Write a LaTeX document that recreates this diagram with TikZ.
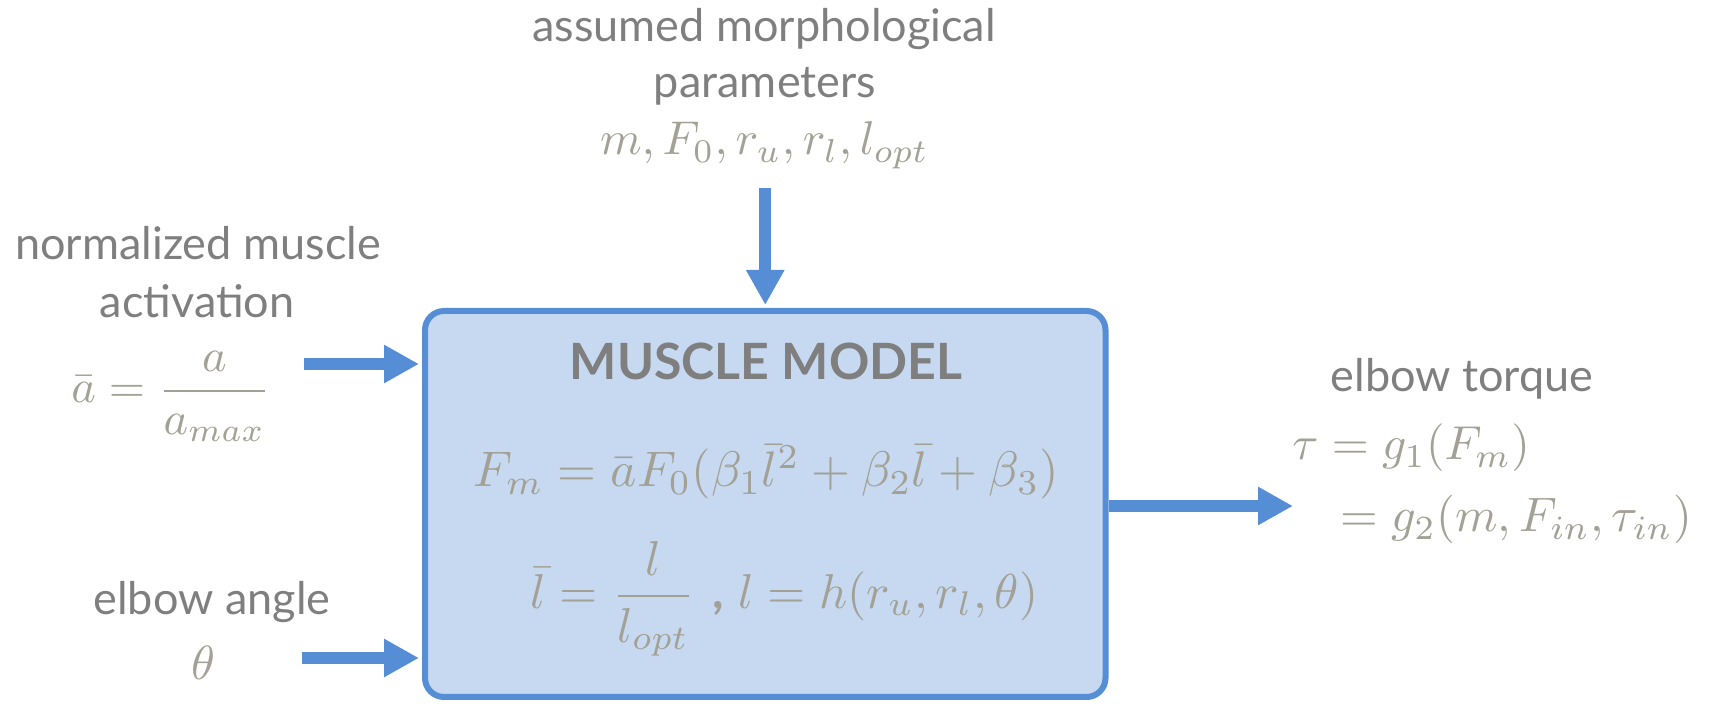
\documentclass[tikz,border=0pt]{standalone}
\usepackage{amsmath}
\usepackage{graphicx}
\usepackage{fontspec}
\newfontfamily\labelfont{Lato}
\usetikzlibrary{arrows.meta}
\definecolor{boxfill}{HTML}{C6D9F1}
\definecolor{boxline}{HTML}{558ED5}
\definecolor{labelgray}{HTML}{7F7F7F}
\definecolor{mathgray}{HTML}{A3A195}
\newcommand{\bigmath}[2][2.35]{\scalebox{#1}{#2}}
\tikzset{
  lbl/.style={inner sep=0pt, anchor=base, text=labelgray, font=\labelfont\fontsize{22.5}{27}\selectfont},
  mth/.style={inner sep=0pt, anchor=base, text=mathgray},
  arr/.style={draw=boxline, line width=6pt, -{Triangle[length=17.5pt,width=18pt]}},
  modelbox/.style={draw=boxline, fill=boxfill, line width=3pt, rounded corners=9.5pt,
    minimum width=340.25pt, minimum height=193pt, inner sep=0pt}
}
\begin{document}
\begin{tikzpicture}[x=0.5pt,y=-0.5pt]
\useasboundingbox (0,0) rectangle (1714,704);
% box
\node[modelbox] (box) at (765.25,504) {};
\node[lbl, font=\labelfont\bfseries\fontsize{25}{30}\selectfont] (title) at (766,380) {MUSCLE MODEL};
\node[mth] (eqF) at (766.5,487) {\bigmath[2.5]{$F_m = \bar{a}F_0(\beta_1\bar{l}^2 + \beta_2\bar{l} + \beta_3)$}};
\node[mth] (eqL) at (784.5,608.5) {\bigmath[2.45]{$\bar{l} = \dfrac{l}{l_{opt}}$\hspace{0.35em}{\labelfont\bfseries ,}\hspace{0.3em}$l = h(r_u, r_l, \theta)$}};
% top input
\node[lbl] (top1) at (764,42) {assumed morphological};
\node[lbl] (top2) at (765,98) {parameters};
\node[mth] (top3) at (764.5,155) {\bigmath[2.37]{$m, F_0, r_u, r_l, l_{opt}$}};
% left inputs
\node[lbl] (act1) at (198,260) {normalized muscle};
\node[lbl] (act2) at (197,318) {activation};
\node[mth] (act3) at (171,403) {\bigmath[2.33]{$\bar{a} = \dfrac{a}{a_{max}}$}};
\node[lbl] (ang1) at (212,615) {elbow angle};
\node[mth] (ang2) at (203,680) {\bigmath[2.4]{$\theta$}};
% output
\node[lbl] (out1) at (1462,392) {elbow torque};
\node[mth, anchor=base west] (out2) at (1292,460) {\bigmath[2.38]{$\tau = g_1(F_m)$}};
\node[mth, anchor=base west] (out3) at (1340,532) {\bigmath[2.42]{$= g_2(m, F_{in}, \tau_{in})$}};
% arrow coordinates
\coordinate (topstart) at (765.25,188);
\coordinate (actstart) at (304,364);
\coordinate (angstart) at (302,658);
\coordinate (outend) at (1293,506);
\draw[arr, shorten >=1.5pt] (topstart) -- (box.north);
\draw[arr, shorten >=1.5pt] (actstart) -- (actstart -| box.west);
\draw[arr, shorten >=1.5pt] (angstart) -- (angstart -| box.west);
\draw[arr] (outend -| box.east) -- (outend);
\end{tikzpicture}
\end{document}
